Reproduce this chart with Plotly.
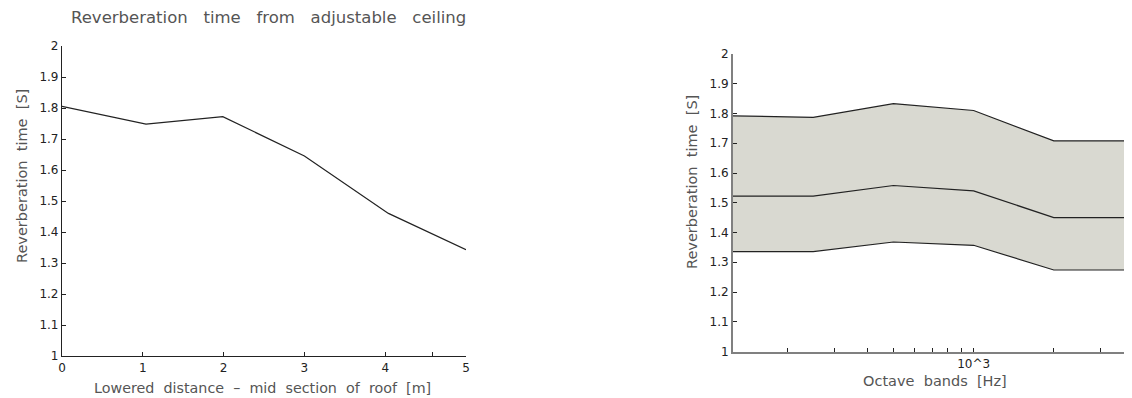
import plotly.graph_objects as go

# Left chart data
lowered_m = [0, 1.04, 1.99, 3.0, 4.04, 5.0]
rt_left = [1.805, 1.748, 1.772, 1.645, 1.46, 1.343]

# Right chart data (octave bands)
bands_hz = [125, 250, 500, 1000, 2000, 4000]
rt_upper = [1.792, 1.787, 1.833, 1.81, 1.708, 1.708]
rt_mid = [1.522, 1.522, 1.558, 1.54, 1.45, 1.45]
rt_lower = [1.336, 1.336, 1.368, 1.357, 1.274, 1.274]

left_xticks = [0, 1, 2, 3, 4, 5]
left_minor_ticks = [1, 2, 3, 4, 4.58]
right_xticks = [200, 300, 400, 500, 600, 700, 800, 900, 1000, 2000, 3000]
right_xtext = ["", "", "", "", "", "", "", "", "10^3", "", ""]
y_ticks = [1, 1.1, 1.2, 1.3, 1.4, 1.5, 1.6, 1.7, 1.8, 1.9, 2]
y_text = ["1", "1.1", "1.2", "1.3", "1.4", "1.5", "1.6", "1.7", "1.8", "1.9", "2"]

FONT = "DejaVu Sans"
sp = "\u00a0"
W, H = 1132, 398
OFF = 8  # page body margin offset

def px(x):
    return (x - OFF) / W

def py(y):
    return (H - (y - OFF)) / H

fig = go.Figure()
fig.add_trace(go.Scatter(x=lowered_m, y=rt_left, mode="lines",
                         line=dict(color="#222222", width=1.2),
                         xaxis="x", yaxis="y", showlegend=False))
fig.add_trace(go.Scatter(x=bands_hz, y=rt_lower, mode="lines",
                         line=dict(color="#222222", width=1.2),
                         xaxis="x2", yaxis="y2", showlegend=False))
fig.add_trace(go.Scatter(x=bands_hz, y=rt_upper, mode="lines", fill="tonexty",
                         fillcolor="#d9d9d1",
                         line=dict(color="#222222", width=1.2),
                         xaxis="x2", yaxis="y2", showlegend=False))
fig.add_trace(go.Scatter(x=bands_hz, y=rt_mid, mode="lines",
                         line=dict(color="#222222", width=1.2),
                         xaxis="x2", yaxis="y2", showlegend=False))

tickfont = dict(family=FONT, size=12, color="#222222")

fig.update_layout(
    width=W, height=H,
    margin=dict(l=0, r=0, t=0, b=0),
    paper_bgcolor="white", plot_bgcolor="white",
    xaxis=dict(domain=[px(62), px(466)], range=[0, 5], anchor="y",
               tickmode="array", tickvals=left_xticks,
               ticktext=[str(v) for v in left_xticks],
               ticks="", showgrid=False, zeroline=False,
               showline=True, linecolor="#222222", linewidth=1.2,
               tickfont=tickfont, automargin=False,
               minor=dict(tickmode="array", tickvals=left_minor_ticks,
                          ticks="inside", ticklen=4, tickcolor="#222222",
                          showgrid=False)),
    yaxis=dict(domain=[py(356), py(46)], range=[1, 2], anchor="x",
               tickmode="array", tickvals=y_ticks, ticktext=y_text,
               ticks="inside", ticklen=4, tickcolor="#222222",
               showgrid=False, zeroline=False,
               showline=True, linecolor="#222222", linewidth=1.2,
               tickfont=tickfont, automargin=False),
    xaxis2=dict(domain=[px(733), px(1134)], type="log",
                range=[2.0969, 3.602], anchor="y2",
                tickmode="array", tickvals=right_xticks, ticktext=right_xtext,
                ticks="inside", ticklen=4, tickcolor="#222222",
                showgrid=False, zeroline=False,
                showline=True, linecolor="#808080", linewidth=2,
                tickfont=tickfont, automargin=False),
    yaxis2=dict(domain=[py(351.5), py(54)], range=[1, 2], anchor="x2",
                tickmode="array", tickvals=y_ticks, ticktext=y_text,
                ticks="inside", ticklen=4, tickcolor="#222222",
                showgrid=False, zeroline=False,
                showline=True, linecolor="#808080", linewidth=2,
                tickfont=tickfont, automargin=False),
)

s3 = sp * 3
s2 = sp * 2
ann = [
    (f"Reverberation{s3}time{s3}from{s3}adjustable{s3}ceiling", 268, 17, 0, 16.5),
    (f"Lowered{s2}distance{s2}–{s2}mid{s2}section{s2}of{s2}roof{s2}[m]", 262, 388, 0, 14.3),
    (f"Reverberation{s2}time{s2}[S]", 22, 176, -90, 14.5),
    (f"Octave{s2}bands{s2}[Hz]", 935, 381, 0, 14.5),
    (f"Reverberation{s2}time{s2}[S]", 692, 182, -90, 14.5),
]
for text, x, y, ang, size in ann:
    fig.add_annotation(text=text, x=px(x), y=py(y), xref="paper", yref="paper",
                       xanchor="center", yanchor="middle", textangle=ang,
                       showarrow=False,
                       font=dict(family=FONT, size=size, color="#555555"))

fig.write_html("out.html")
